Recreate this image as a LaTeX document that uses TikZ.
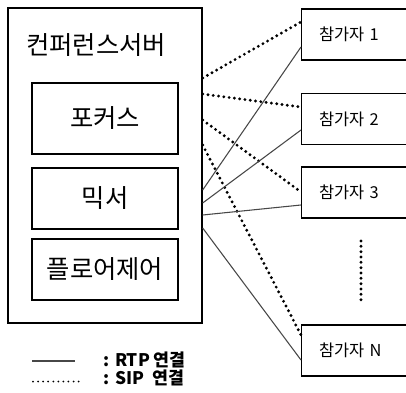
\documentclass[tikz,border=0pt]{standalone}
\usepackage{fontspec}
\newfontfamily\kr{Noto Sans CJK KR}
\begin{document}
\begin{tikzpicture}[x=0.75pt,y=-0.75pt,
  box/.style={draw=black,line width=1pt,fill=none},
  inbox/.style={box,minimum width=109.5pt},
  pbox/.style={box,anchor=west,minimum height=38.25pt,text width=80pt,align=left,inner xsep=13pt,font=\kr\fontsize{12.3}{14}\selectfont},
  sip/.style={draw=black,line width=2.4pt,dash pattern=on 0pt off 4pt,line cap=round},
  sipsmall/.style={draw=black,line width=1.5pt,dash pattern=on 0pt off 3.8pt,line cap=round},
  rtp/.style={draw=black!72,line width=0.8pt},
  big/.style={font=\kr\fontsize{19}{21}\selectfont},
  leg/.style={anchor=west,font=\kr\bfseries\fontsize{13}{15}\selectfont}]
\useasboundingbox (0,0) rectangle (406,392);
\fill[white] (0,0) rectangle (406,392);
% server
\node[box,minimum width=145.5pt,minimum height=236.25pt] (srv) at (105,165.5) {};
\node[big] (ttl) at (96,45.5) {컨퍼런스서버};
\node[inbox,big,minimum height=53.25pt] (focus) at (105,118.5) {포커스};
\node[inbox,big,minimum height=45.75pt] (mixer) at (105,198.5) {믹서};
\node[inbox,big,minimum height=45.75pt] (floor) at (105,269.5) {플로어제어};
% participants
\node[pbox] (p1) at (301,34.5) {참가자 1};
\node[pbox] (p2) at (301,119) {참가자 2};
\node[pbox] (p3) at (301,192.5) {참가자 3};
\node[pbox] (pn) at (301,350.5) {참가자 N};
% SIP connections
\draw[sip] (srv.east |- 0,78) -- (p1.west |- 0,22);
\draw[sip] (srv.east |- 0,94) -- (p2.west |- 0,107);
\draw[sip] (srv.east |- 0,120) -- (p3.west |- 0,192);
\draw[sip] (srv.east |- 0,145) -- (pn.west |- 0,335);
% RTP connections
\draw[rtp] (srv.east |- 0,190) -- (p1.west |- 0,47);
\draw[rtp] (srv.east |- 0,203) -- (p2.west |- 0,130);
\draw[rtp] (srv.east |- 0,215) -- (p3.west |- 0,205);
\draw[rtp] (srv.east |- 0,228) -- (pn.west |- 0,360);
% vertical ellipsis
\coordinate (d1) at (361,241);
\coordinate (d2) at (361,300);
\draw[sip] (d1) -- (d2);
% legend
\coordinate (la1) at (32,361);
\coordinate (la2) at (75,361);
\draw[rtp,line width=1pt] (la1) -- (la2);
\node[leg] (lt1) at (99,360) {: RTP 연결};
\coordinate (lb1) at (33,381.5);
\coordinate (lb2) at (81,381.5);
\draw[sipsmall] (lb1) -- (lb2);
\node[leg] (lt2) at (99,378) {: SIP\ \ 연결};
\end{tikzpicture}
\end{document}
